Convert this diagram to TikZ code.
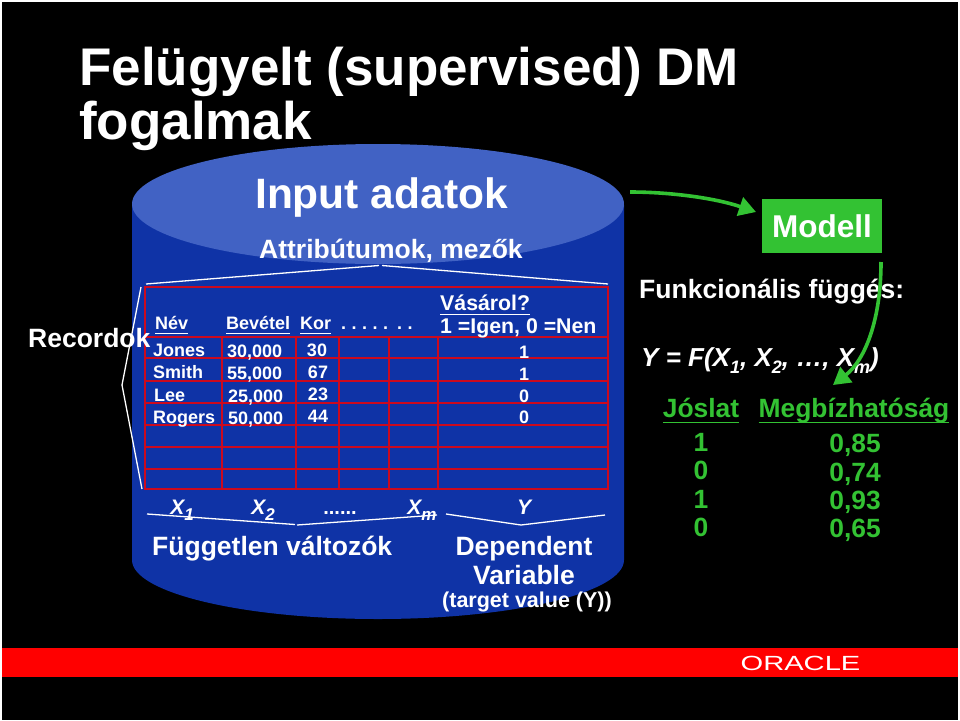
\documentclass[tikz,border=0pt]{standalone}
\usepackage{fontspec}
\setmainfont{Liberation Sans}
\usetikzlibrary{arrows.meta}
\definecolor{cylbody}{HTML}{0F33A6}
\definecolor{cyltop}{HTML}{4162C4}
\definecolor{gridred}{HTML}{CC0A1E}
\definecolor{oragreen}{HTML}{33C233}
\definecolor{orared}{HTML}{FF0000}
\newcommand{\ul}[1]{\underline{\raisebox{0pt}[\height][0.14em]{#1}}}
\newcommand{\sbx}[1]{\raisebox{-0.3em}{\fontsize{17}{17}\selectfont #1}}
\newcommand{\sbe}[1]{\raisebox{-0.28em}{\fontsize{18}{18}\selectfont #1}}
\tikzset{
  txt/.style={text=white,font=\bfseries\fontsize{21.3}{21.3}\selectfont,inner sep=0pt,anchor=base west},
  hdr/.style={text=white,font=\bfseries\fontsize{18}{18}\selectfont,inner sep=0pt,anchor=base west},
  cell/.style={text=white,font=\bfseries\fontsize{18}{18}\selectfont,inner sep=0pt,anchor=base},
  big/.style={text=white,font=\bfseries\fontsize{26.5}{30}\selectfont,inner sep=0pt,anchor=base west},
  bigc/.style={text=white,font=\bfseries\fontsize{26.5}{30}\selectfont,inner sep=0pt,anchor=base},
  title/.style={text=white,font=\bfseries\fontsize{53}{56}\selectfont,inner sep=0pt,anchor=base west},
  var/.style={text=white,font=\bfseries\itshape\fontsize{21}{21}\selectfont,inner sep=0pt,anchor=base},
  grn/.style={text=oragreen,font=\bfseries\fontsize{26.4}{26.4}\selectfont,inner sep=0pt,anchor=base},
  brace/.style={draw=white,line width=1.3pt},
  grid/.style={draw=gridred,line width=1.3pt},
  flow/.style={draw=oragreen,line width=3.6pt,-{Triangle[length=17pt,width=19pt]}}
}
\begin{document}
\begin{tikzpicture}[x=1pt,y=-1pt]
\useasboundingbox (0,0) rectangle (960,720);
\fill[white] (0,0) rectangle (960,720);
\fill[black] (2,1.5) rectangle (958,720);
% band
\fill[orared] (2,648) rectangle (958,677);
\node[text=white,font=\fontsize{20.5}{20.5}\selectfont,inner sep=0pt,anchor=base,xscale=1.42] (oracle) at (800.5,670) {ORACLE};
% cylinder
\fill[cylbody] (132,205) -- (132,560) arc[start angle=180,end angle=0,x radius=246,y radius=59] -- (624,205) -- cycle;
\fill[cyltop] (378,204) ellipse[x radius=246,y radius=60];
% title
\node[title] (t1) at (79,85.5) {Felügyelt (supervised) DM};
\node[title] (t2) at (79,139.5) {fogalmak};
\node[big,font=\bfseries\fontsize{42.5}{42.5}\selectfont] (inp) at (255,208) {Input adatok};
\node[big] (attr) at (259,258) {Attribútumok, mezők};
% grid
\foreach \yy in {337,358,381,403,425,447,469} \draw[grid] (145,\yy) -- (608,\yy);
\foreach \xx in {222,296,339,389,438} \draw[grid] (\xx,337) -- (\xx,489);
\draw[gridred,line width=2.6pt] (145,287) rectangle (608,489);
% braces
\coordinate (bt1) at (146,284); \coordinate (bt2) at (380,265); \coordinate (bt3) at (608,284);
\draw[brace] (bt1) -- (379,265.5); \draw[brace] (382,265.5) -- (bt3);
\coordinate (bl1) at (141,287); \coordinate (bl2) at (122,385); \coordinate (bl3) at (142,489);
\draw[brace] (bl1) -- (bl2) -- (bl3);
\coordinate (bi1) at (147,514); \coordinate (bi2) at (296,525); \coordinate (bi3) at (437,515);
\draw[brace] (bi1) -- (295,524.5); \draw[brace] (297,525) -- (bi3);
\coordinate (bd1) at (446,514); \coordinate (bd2) at (521,525); \coordinate (bd3) at (605,515);
\draw[brace] (bd1) -- (bd2) -- (bd3);
% table texts
\node[big] (rec) at (28,347) {Recordok};
\node[hdr] (nev) at (155,329) {\ul{Név}};
\node[hdr] (bev) at (226,329) {\ul{Bevétel}};
\node[hdr] (kor) at (300,329) {\ul{Kor}};
\node[hdr] (dots) at (341,329) {.\hspace{5.5pt}.\hspace{5.5pt}.\hspace{5.5pt}.\hspace{5.5pt}.\hspace{9pt}.\hspace{5.5pt}.};
\node[txt] (vas) at (440,310) {\ul{Vásárol?}};
\node[txt] (ign) at (440,333) {1 =Igen, 0 =Nen};
\node[cell,anchor=base west] (a) at (153,356) {Jones};
\node[cell,anchor=base west] (b) at (153,378) {Smith};
\node[cell,anchor=base west] (c) at (154,401) {Lee};
\node[cell,anchor=base west] (d) at (153,423) {Rogers};
\node[cell,anchor=base west] (i1) at (227,357) {30,000};
\node[cell,anchor=base west] (i2) at (227,379) {55,000};
\node[cell,anchor=base west] (i3) at (228,402) {25,000};
\node[cell,anchor=base west] (i4) at (228,424) {50,000};
\node[cell] (k1) at (317,356) {30};
\node[cell] (k2) at (318,378) {67};
\node[cell] (k3) at (318,400) {23};
\node[cell] (k4) at (318,422) {44};
\node[cell] (y1) at (524,358) {1};
\node[cell] (y2) at (524,380) {1};
\node[cell] (y3) at (524,402) {0};
\node[cell] (y4) at (524,423) {0};
% variables
\node[var] (x1) at (182,514) {X\sbx{1}};
\node[var] (x2) at (263,514) {X\sbx{2}};
\node[cell,font=\bfseries\fontsize{20}{20}\selectfont] (vd) at (340,514) {......};
\node[var] (xm) at (422,514) {X\sbx{m}};
\node[var] (yy) at (524,514) {Y};
\node[big] (fv) at (152,555) {Független változók};
\node[bigc] (dep) at (524,555) {Dependent};
\node[bigc] (vari) at (524,584) {Variable};
\node[cell,font=\bfseries\fontsize{21.5}{21.5}\selectfont] (tv) at (527,607) {(target value (Y))};
% right side
\node[fill=oragreen,minimum width=120pt,minimum height=54pt,inner sep=0pt,text=white,font=\bfseries\fontsize{31.5}{31.5}\selectfont] (model) at (822,226) {Modell};
\node[big] (fun) at (639,298) {Funkcionális függés:};
\node[var,anchor=base west,font=\bfseries\itshape\fontsize{26}{26}\selectfont] (eq) at (641,366) {Y = F(X\sbe{1}, X\sbe{2}, …, X\sbe{m})};
\coordinate (fa) at (630,192);
\coordinate (fe) at (756,212);
\draw[flow] (fa) .. controls (670,192) and (715,198) .. (fe);
\coordinate (fb) at (881,262);
\coordinate (fc) at (833,385);
\draw[flow] (fb) .. controls (881,320) and (865,360) .. (fc);
\node[grn] (jo) at (701,417) {\ul{Jóslat}};
\node[grn] (me) at (854,417) {\ul{Megbízhatóság}};
\node[grn] (p1) at (701,451) {1};
\node[grn] (p2) at (701,479) {0};
\node[grn] (p3) at (701,508) {1};
\node[grn] (p4) at (701,536) {0};
\node[grn] (c1) at (855,452.5) {0,85};
\node[grn] (c2) at (855,481) {0,74};
\node[grn] (c3) at (855,509.5) {0,93};
\node[grn] (c4) at (855,537.5) {0,65};
\end{tikzpicture}
\end{document}
